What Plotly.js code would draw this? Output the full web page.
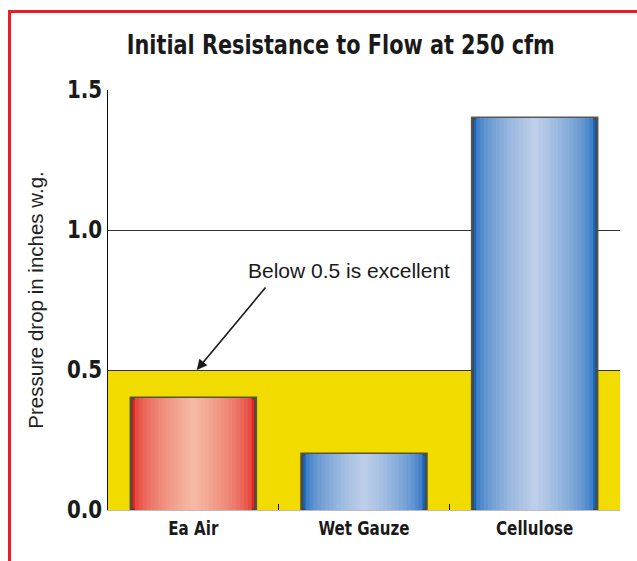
<!DOCTYPE html>
<html>
<head>
<meta charset="utf-8">
<script src="https://cdn.plot.ly/plotly-3.0.1.min.js"></script>
<style>
  html, body { margin: 0; padding: 0; background: #fff; }
  #chart { width: 637px; height: 561px; position: relative; }
  #frame { position: absolute; left: 8px; top: 10px; right: -5px; bottom: -5px;
           border-left: 3px solid #ee1c25; border-top: 3px solid #ee1c25; pointer-events: none; }
  #chart .gtitle, #chart .xtick text, #chart .ytick text { font-stretch: condensed !important; }
</style>
</head>
<body>
<div id="chart"></div>
<div id="frame"></div>
<script>
// ---- data ----
const categories = ["Ea Air", "Wet Gauze", "Cellulose"];
const pressureDrop = [0.4, 0.2, 1.4];
const threshold = 0.5;
const yTickValues = [0, 0.5, 1.0, 1.5];
const yTickLabels = ["0.0", "0.5", "1.0", "1.5"];
const titleText = "Initial Resistance to Flow at 250 cfm";
const yTitleText = "Pressure drop in inches w.g.";
const noteText = "Below 0.5 is excellent";

// ---- styles ----
const condensed = "'DejaVu Sans', sans-serif";
const plain = "'Liberation Sans', Arial, Helvetica, sans-serif";

function mix(a, b, t) {
  const pa = [1, 3, 5].map(i => parseInt(a.substr(i, 2), 16));
  const pb = [1, 3, 5].map(i => parseInt(b.substr(i, 2), 16));
  return "rgb(" + pa.map((v, i) => Math.round(v + (pb[i] - v) * t)).join(",") + ")";
}
const nLayers = 16;
const maxWidth = 0.73;
const traces = [];
for (let i = 0; i < nLayers; i++) {
  const t = i / (nLayers - 1);
  const ease = Math.sqrt(t);
  traces.push({
    type: "bar",
    x: categories,
    y: pressureDrop,
    width: maxWidth * (1 - i / nLayers),
    marker: {
      color: categories.map((c, k) => k === 0 ? mix("#e3261f", "#f5b8a2", ease) : mix("#1766bb", "#bccee9", ease)),
      line: i === 0 ? { color: "rgba(70,70,70,0.9)", width: 3 } : { width: 0 }
    },
    hoverinfo: "x+y",
    showlegend: false
  });
}

const layout = {
  width: 637, height: 561,
  margin: { l: 108, r: 17, t: 90, b: 51 },
  paper_bgcolor: "#ffffff",
  plot_bgcolor: "#ffffff",
  barmode: "overlay",
  title: {
    text: titleText,
    font: { family: condensed, size: 27, color: "#1a1a1a", weight: "bold" },
    x: 0.535, xref: "container", xanchor: "center",
    y: 1 - 45 / 561, yref: "container", yanchor: "middle"
  },
  xaxis: {
    type: "category",
    range: [-0.5, 2.5],
    showline: true, linecolor: "#bbbbbb", linewidth: 1,
    ticks: "inside", tickson: "boundaries", ticklen: 6, tickcolor: "#111", tickwidth: 1,
    showgrid: false, zeroline: false,
    tickfont: { family: condensed, size: 20, color: "#1a1a1a", weight: "bold" },
    fixedrange: true
  },
  yaxis: {
    range: [0, 1.5],
    tickvals: yTickValues, ticktext: yTickLabels,
    showline: true, linecolor: "#111", linewidth: 1,
    ticks: "", showgrid: true, gridcolor: "#333", gridwidth: 1,
    zeroline: false,
    tickfont: { family: condensed, size: 24, color: "#1a1a1a", weight: "bold" },
    title: { text: yTitleText, font: { family: plain, size: 20.5, color: "#222" }, standoff: 10 },
    fixedrange: true
  },
  shapes: [{
    type: "rect", xref: "paper", yref: "y",
    x0: 0, x1: 1, y0: 0, y1: threshold,
    fillcolor: "#f2dc00", line: { width: 0 }, layer: "below"
  }],
  annotations: [
    {
      xref: "x", yref: "y", x: 0.02, y: threshold,
      axref: "pixel", ayref: "pixel", ax: 70, ay: -84,
      text: "", showarrow: true, arrowhead: 2, arrowsize: 1.3, arrowwidth: 1.6,
      arrowcolor: "#1a1a1a", standoff: 0, startstandoff: 0
    },
    {
      xref: "paper", yref: "y", x: (349 - 108) / 512, y: 0.854,
      text: noteText, showarrow: false,
      font: { family: plain, size: 21, color: "#1a1a1a" },
      xanchor: "center", yanchor: "middle"
    }
  ]
};

function squeeze(sel, factor) {
  document.querySelectorAll(sel).forEach(el => {
    const len = el.getComputedTextLength();
    el.setAttribute("textLength", (len * factor).toFixed(1));
    el.setAttribute("lengthAdjust", "spacingAndGlyphs");
  });
}

Plotly.newPlot("chart", traces, layout, { displayModeBar: false, staticPlot: true }).then(() => {
  const t = document.querySelector("#chart .gtitle");
  if (t) {
    t.setAttribute("textLength", "428");
    t.setAttribute("lengthAdjust", "spacingAndGlyphs");
  }
  squeeze("#chart .xtick text", 0.84);
  squeeze("#chart .ytick text", 0.92);
});
</script>
</body>
</html>
